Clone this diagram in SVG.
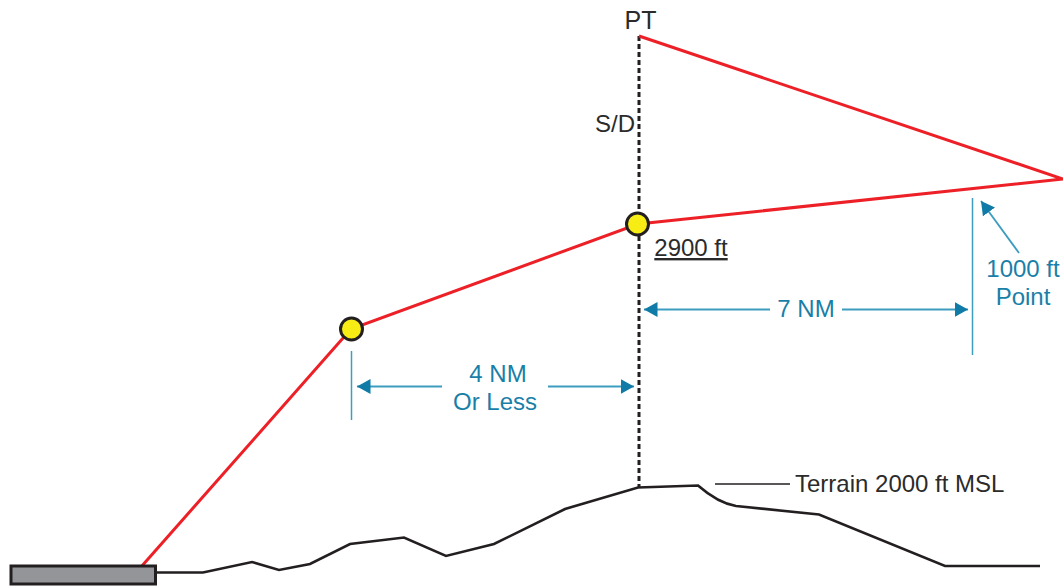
<svg xmlns="http://www.w3.org/2000/svg" width="1063" height="586" viewBox="0 0 1063 586">
<defs>
<marker id="ah" markerUnits="userSpaceOnUse" markerWidth="15" markerHeight="16" refX="13.500" refY="7.500" orient="auto-start-reverse"><path d="M0 0L13.500 7.500L0 15Z" fill="#0f7ba6"/></marker>
</defs>
<style>
text{font-family:"Liberation Sans",Arial,sans-serif;font-size:24px}
.k{fill:#2b2b2b}
.b{fill:#1a7fa8}
.red{fill:none;stroke:#ed2027;stroke-width:3}
.tick{fill:none;stroke:#3d9dbf;stroke-width:1.500}
.arr{fill:none;stroke:#3d9dbf;stroke-width:1.800;marker-end:url(#ah)}
.dot{fill:#f7ec13;stroke:#231f20;stroke-width:3}
</style>
<rect width="1063" height="586" fill="#fff"/>
<g id="connectors">
<path d="M639 36V487" fill="none" stroke="#231f20" stroke-width="3" stroke-dasharray="5 3"/>
<path class="red" d="M141 567L351 329L638 224L1063 179L639 36"/>
<path id="terrain" d="M156 572.500H203L252 562L279 570L310 564L350 544L404 537.500L446 556L494 544L565 509L638 487.500L698 485.500Q718 503 736 506L819 514.500L945 566H1040" fill="none" stroke="#231f20" stroke-width="2.600"/>
<path d="M715 484H790" fill="none" stroke="#231f20" stroke-width="1.300"/>
<path class="tick" d="M351.500 351V420"/>
<path class="tick" d="M972.500 198V355"/>
<path class="arr" d="M442 386.500H357"/>
<path class="arr" d="M548 386.500H634"/>
<path class="arr" d="M770 309.500H644"/>
<path class="arr" d="M842 309.500H968"/>
<path class="arr" d="M1019 253L981 201"/>
</g>
<g id="runway"><rect x="11" y="566" width="144.500" height="18" fill="#939598" stroke="#231f20" stroke-width="3"/></g>
<g id="fix-1"><circle class="dot" cx="351.500" cy="329" r="11"/></g>
<g id="fix-2"><circle class="dot" cx="637.500" cy="224" r="11"/></g>
<g id="label-pt"><text class="k" x="640.500" y="29" text-anchor="middle" style="font-size:25px">PT</text></g>
<g id="label-sd"><text class="k" x="615" y="131.500" text-anchor="middle">S/D</text></g>
<g id="label-2900"><text class="k" x="691" y="256" text-anchor="middle" text-decoration="underline">2900 ft</text></g>
<g id="label-terrain"><text class="k" x="795" y="492">Terrain 2000 ft MSL</text></g>
<g id="label-4nm"><text class="b" x="498" y="382" text-anchor="middle">4 NM</text><text class="b" x="495" y="410" text-anchor="middle">Or Less</text></g>
<g id="label-7nm"><text class="b" x="806" y="317" text-anchor="middle">7 NM</text></g>
<g id="label-1000"><text class="b" x="1023" y="277" text-anchor="middle">1000 ft</text><text class="b" x="1023" y="305" text-anchor="middle">Point</text></g>
</svg>
